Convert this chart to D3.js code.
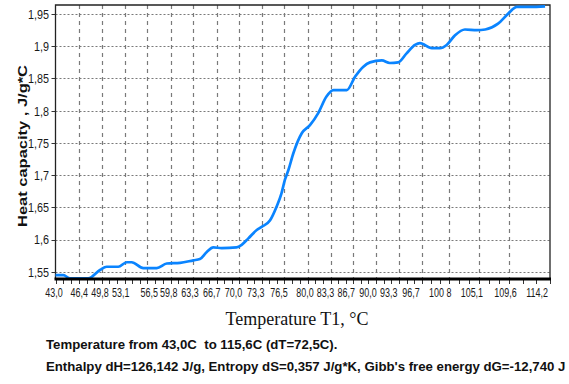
<!DOCTYPE html>
<html>
<head>
<meta charset="utf-8">
<script src="https://cdn.jsdelivr.net/npm/d3@7/dist/d3.min.js"></script>
<style>
  html, body { margin: 0; padding: 0; background: #fff; }
  svg { display: block; }
</style>
</head>
<body>
<svg id="chart" width="569" height="384"></svg>
<script>
// ---- data (x = position along the run, 0..100 % of the plotted span) ----
const samplePos = [0, 1.58, 2.93, 6.63, 9.0, 10.35, 12.7, 14.4, 15.4, 17.75, 20.47, 22.5, 25.2, 27.87, 29.2,
  30.6, 31.9, 33.6, 36.6, 37.65, 39.0, 40.7, 41.7, 43.4, 44.7, 45.7, 46.4, 47.1, 48.1, 49.8, 51.5, 53.1,
  54.8, 56.2, 58.9, 60.6, 62.2, 63.6, 66.0, 67.6, 69.3, 71.0, 72.7, 73.7, 76.1, 77.75, 79.1, 80.8, 82.8,
  85.2, 86.9, 89.5, 91.6, 93.3, 96.0, 99.0];
const heatCapacity = [1.545, 1.545, 1.540, 1.540, 1.553, 1.558, 1.558, 1.565, 1.565, 1.556, 1.556, 1.563, 1.564, 1.568, 1.570,
  1.581, 1.588, 1.587, 1.588, 1.592, 1.602, 1.615, 1.620, 1.630, 1.651, 1.672, 1.693, 1.708, 1.734, 1.765, 1.778, 1.796,
  1.822, 1.832, 1.832, 1.853, 1.868, 1.875, 1.878, 1.874, 1.875, 1.889, 1.902, 1.905, 1.897, 1.897, 1.902, 1.917, 1.926,
  1.925, 1.926, 1.935, 1.951, 1.961, 1.961, 1.962];

const yTicks = [1.55, 1.6, 1.65, 1.7, 1.75, 1.8, 1.85, 1.9, 1.95];
const yTickLabels = ["1,55", "1,6", "1,65", "1,7", "1,75", "1,8", "1,85", "1,9", "1,95"];

const xTickLabels = ["43,0", "46,4", "49,8", "53,1", "56,5", "59,8", "63,3", "66,7", "70,0", "73,3", "76,5",
  "80,0", "83,3", "86,7", "90,0", "93,3", "96,7", "100 8", "105,1", "109,6", "114,2"];
const xLabelPos = [-0.3, 4.8, 9.0, 13.2, 18.95, 22.9, 27.2, 31.6, 36.0, 40.5, 45.2,
  50.45, 54.6, 58.8, 63.2, 67.4, 71.9, 77.8, 84.2, 91.0, 97.4];
const xGridPos = [4.75, 9.34, 14.05, 18.5, 23.3, 27.8, 32.6, 37.1, 41.75, 46.2, 51.0, 55.65,
  60.2, 64.8, 69.5, 74.05, 79.6, 85.6, 91.8];

const xTitle = "Temperature T1, \u00B0C";
const yTitle = "Heat capacity , J/g*C";
const infoLines = [
  "Temperature from 43,0C  to 115,6C (dT=72,5C).",
  "Enthalpy dH=126,142 J/g, Entropy dS=0,357 J/g*K, Gibb's free energy dG=-12,740 J"
];

// ---- layout ----
const svg = d3.select("#chart");
const L = 55.5, R = 550, T = 5, B = 279;
const x = d3.scaleLinear().domain([0, 100]).range([L, R]);
const y = d3.scaleLinear().domain([1.539, 1.964]).range([B, T]);
const sans = "'Liberation Sans', Arial, sans-serif";

// horizontal grid
svg.append("g").selectAll("line").data(yTicks).join("line")
  .attr("x1", L).attr("x2", R)
  .attr("y1", d => Math.round(y(d)) + 0.5).attr("y2", d => Math.round(y(d)) + 0.5)
  .attr("stroke", "#7a7a7a").attr("stroke-width", 1.2)
  .attr("stroke-dasharray", "2,2");

// vertical grid
svg.append("g").selectAll("line").data(xGridPos).join("line")
  .attr("x1", d => Math.round(x(d)) + 0.5).attr("x2", d => Math.round(x(d)) + 0.5)
  .attr("y1", T).attr("y2", B)
  .attr("stroke", "#7a7a7a").attr("stroke-width", 1.2)
  .attr("stroke-dasharray", "4,4");

// frame
svg.append("path")
  .attr("d", `M${L},${B} L${L},${T} L${R},${T} L${R},${B}`)
  .attr("fill", "none").attr("stroke", "#222").attr("stroke-width", 1.3);

// minor / major ticks under the bottom axis
const edges = [0].concat(xGridPos, [100]);
const tickPos = [];
for (let i = 0; i < edges.length - 1; i++) {
  const a = edges[i], b = edges[i + 1];
  tickPos.push(a, a + (b - a) / 3, a + 2 * (b - a) / 3);
}
tickPos.push(100);
svg.append("g").selectAll("line").data(tickPos).join("line")
  .attr("x1", d => Math.round(x(d)) + 0.5).attr("x2", d => Math.round(x(d)) + 0.5)
  .attr("y1", B).attr("y2", B + 5)
  .attr("stroke", "#333").attr("stroke-width", 1);

// left ticks
svg.append("g").selectAll("line").data(yTicks).join("line")
  .attr("x1", L - 4).attr("x2", L)
  .attr("y1", d => Math.round(y(d)) + 0.5).attr("y2", d => Math.round(y(d)) + 0.5)
  .attr("stroke", "#333").attr("stroke-width", 1);

// curve
const line = d3.line()
  .x((d, i) => x(samplePos[i]))
  .y(d => y(d))
  .curve(d3.curveMonotoneX);
svg.append("path")
  .datum(heatCapacity)
  .attr("d", line)
  .attr("fill", "none")
  .attr("stroke", "#0a84ff")
  .attr("stroke-width", 2.7)
  .attr("stroke-linejoin", "round");

// bottom axis line (thick)
svg.append("line")
  .attr("x1", L - 1).attr("x2", R + 1).attr("y1", B).attr("y2", B)
  .attr("stroke", "#000").attr("stroke-width", 3);

// y tick labels
svg.append("g").selectAll("text").data(yTicks).join("text")
  .attr("transform", d => `translate(49,${y(d) + 4.8}) scale(0.8,1)`)
  .attr("text-anchor", "end")
  .attr("font-family", sans).attr("font-size", 13.5)
  .attr("fill", "#1a1a1a")
  .text((d, i) => yTickLabels[i]);

// x tick labels
svg.append("g").selectAll("text").data(xLabelPos).join("text")
  .attr("transform", d => `translate(${x(d)},297) scale(0.7,1)`)
  .attr("text-anchor", "middle")
  .attr("font-family", sans).attr("font-size", 12.8)
  .attr("fill", "#1a1a1a")
  .text((d, i) => xTickLabels[i]);

// axis titles
svg.append("text")
  .attr("x", 297).attr("y", 325)
  .attr("text-anchor", "middle")
  .attr("font-family", "'Liberation Serif', 'Times New Roman', serif")
  .attr("font-size", 18)
  .attr("fill", "#111")
  .text(xTitle);

svg.append("text")
  .attr("transform", "translate(27,146) rotate(-90)")
  .attr("text-anchor", "middle")
  .attr("font-family", sans).attr("font-weight", "bold").attr("font-size", 13)
  .attr("fill", "#111")
  .attr("textLength", 162).attr("lengthAdjust", "spacingAndGlyphs")
  .text(yTitle);

// info lines (width fitted so that the second line ends at the right edge)
const info = svg.append("g");
const probe = info.append("text")
  .attr("font-family", sans).attr("font-weight", "bold").attr("font-size", 13)
  .text(infoLines[1]);
const sx = 520 / probe.node().getComputedTextLength();
probe.remove();
info.append("text")
  .attr("font-family", sans).attr("font-weight", "bold").attr("font-size", 13)
  .attr("fill", "#111")
  .attr("transform", `translate(46,349) scale(${sx},1)`)
  .attr("xml:space", "preserve").style("white-space", "pre")
  .text(infoLines[0]);
info.append("text")
  .attr("font-family", sans).attr("font-weight", "bold").attr("font-size", 13)
  .attr("fill", "#111")
  .attr("transform", `translate(46,371) scale(${sx},1)`)
  .text(infoLines[1]);
</script>
</body>
</html>
